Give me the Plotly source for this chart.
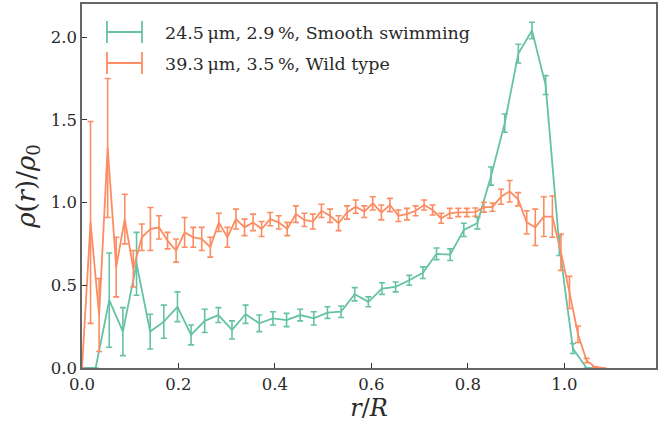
import plotly.graph_objects as go

# radial density profiles, rho(r)/rho_0 vs r/R
r_smooth = [0.0, 0.0283, 0.0565, 0.0848, 0.1131, 0.1414, 0.1696, 0.1979, 0.2262, 0.2544,
            0.2827, 0.3110, 0.3392, 0.3675, 0.3958, 0.4241, 0.4523, 0.4806, 0.5089, 0.5371,
            0.5654, 0.5937, 0.6219, 0.6502, 0.6785, 0.7068, 0.7350, 0.7633, 0.7916, 0.8198,
            0.8481, 0.8764, 0.9046, 0.9329, 0.9612, 0.9895, 1.0177, 1.0460, 1.0743]
rho_smooth = [0.0, 0.0, 0.41, 0.22, 0.63, 0.22, 0.28, 0.37, 0.20, 0.285,
              0.32, 0.23, 0.325, 0.27, 0.30, 0.29, 0.32, 0.30, 0.335, 0.34,
              0.446, 0.40, 0.48, 0.49, 0.53, 0.576, 0.69, 0.685, 0.835, 0.876,
              1.16, 1.48, 1.90, 2.04, 1.71, 0.74, 0.118, 0.0, 0.0]
err_smooth = [0.0, 0.0, 0.285, 0.145, 0.19, 0.105, 0.10, 0.09, 0.06, 0.07,
              0.045, 0.055, 0.055, 0.05, 0.04, 0.04, 0.035, 0.04, 0.035, 0.035,
              0.04, 0.03, 0.035, 0.03, 0.03, 0.035, 0.035, 0.035, 0.04, 0.035,
              0.055, 0.055, 0.057, 0.05, 0.057, 0.06, 0.03, 0.0, 0.0]

r_wild = [0.0, 0.0177, 0.0355, 0.0532, 0.0709, 0.0887, 0.1064, 0.1241, 0.1418, 0.1596,
          0.1773, 0.1950, 0.2128, 0.2305, 0.2482, 0.2660, 0.2837, 0.3014, 0.3191, 0.3369,
          0.3546, 0.3723, 0.3901, 0.4078, 0.4255, 0.4433, 0.4610, 0.4787, 0.4964, 0.5142,
          0.5319, 0.5496, 0.5674, 0.5851, 0.6028, 0.6206, 0.6383, 0.6560, 0.6737, 0.6915,
          0.7092, 0.7269, 0.7447, 0.7624, 0.7801, 0.7979, 0.8156, 0.8333, 0.8510, 0.8688,
          0.8865, 0.9042, 0.9220, 0.9397, 0.9574, 0.9752, 0.9929, 1.0106, 1.0283, 1.0461,
          1.0638, 1.0815]
rho_wild = [0.0, 0.88, 0.32, 1.33, 0.61, 0.90, 0.60, 0.79, 0.84, 0.85,
            0.77, 0.71, 0.82, 0.79, 0.78, 0.73, 0.88, 0.79, 0.90, 0.85,
            0.88, 0.84, 0.90, 0.88, 0.84, 0.93, 0.895, 0.885, 0.95, 0.92,
            0.875, 0.94, 0.975, 0.945, 0.995, 0.94, 0.985, 0.92, 0.93, 0.95,
            0.985, 0.955, 0.905, 0.935, 0.94, 0.94, 0.942, 0.972, 0.972, 1.035,
            1.068, 1.02, 0.88, 0.85, 0.915, 0.915, 0.70, 0.457, 0.204, 0.045,
            0.005, 0.0]
err_wild = [0.0, 0.61, 0.22, 0.42, 0.18, 0.15, 0.11, 0.08, 0.13, 0.07,
            0.05, 0.07, 0.09, 0.06, 0.07, 0.06, 0.055, 0.06, 0.06, 0.05,
            0.05, 0.045, 0.04, 0.04, 0.04, 0.05, 0.04, 0.045, 0.04, 0.04,
            0.045, 0.04, 0.04, 0.035, 0.04, 0.045, 0.04, 0.035, 0.035, 0.03,
            0.03, 0.03, 0.03, 0.03, 0.025, 0.025, 0.025, 0.03, 0.025, 0.045,
            0.065, 0.04, 0.07, 0.11, 0.12, 0.125, 0.11, 0.097, 0.05, 0.013,
            0.003, 0.0]

labels = ["24.5\u2009\u03bcm, 2.9\u2009%, Smooth swimming",
          "39.3\u2009\u03bcm, 3.5\u2009%, Wild type"]
colors = ["#66c2a5", "#fc8d62"]

W, H = 665, 428
L, R, T, B = 82, 9, 4, 60
FONT = "DejaVu Serif"

fig = go.Figure()
for x, y, e, c in [(r_smooth, rho_smooth, err_smooth, colors[0]),
                   (r_wild, rho_wild, err_wild, colors[1])]:
    fig.add_trace(go.Scatter(
        x=x, y=y, mode="lines",
        line=dict(color=c, width=1.8),
        error_y=dict(type="data", array=e, color=c, thickness=1.6, width=3),
        showlegend=False, hoverinfo="skip",
    ))

# hand-made legend (errorbar glyphs), positions in pixels
def px(xp):
    return (xp - L) / (W - L - R)

def py(yp):
    return (H - B - yp) / (H - B - T)

for i, (lab, c) in enumerate(zip(labels, colors)):
    yc = 32 + 31 * i
    fig.add_shape(type="line", xref="paper", yref="paper",
                  x0=px(107), x1=px(142), y0=py(yc), y1=py(yc),
                  line=dict(color=c, width=1.8))
    for xe in (107, 142):
        fig.add_shape(type="line", xref="paper", yref="paper",
                      x0=px(xe), x1=px(xe), y0=py(yc - 11), y1=py(yc + 11),
                      line=dict(color=c, width=1.8))
    fig.add_annotation(xref="paper", yref="paper", x=px(163), y=py(yc + 1),
                       text=lab, showarrow=False, xanchor="left", yanchor="middle",
                       font=dict(family=FONT, size=17.5, color="#2a2a2a"))

axis_common = dict(showline=True, linecolor="#666", linewidth=1.5, mirror=True,
                   ticks="inside", ticklen=5, tickcolor="#333", tickwidth=1,
                   showgrid=False, zeroline=False, automargin=False,
                   tickfont=dict(family=FONT, size=16.5, color="#2a2a2a"))

fig.update_xaxes(range=[0, 1.19], dtick=0.2, tick0=0, tickformat=".1f",
                 title=dict(text="<i>r</i>/<i>R</i>", standoff=4,
                            font=dict(family=FONT, size=24, color="#2a2a2a")),
                 **axis_common)
fig.update_yaxes(range=[0, 2.2], dtick=0.5, tick0=0, tickformat=".1f",
                 title=dict(text="<i>\u03c1</i>(<i>r</i>)/<i>\u03c1</i><sub>0</sub>",
                            standoff=8, font=dict(family=FONT, size=26, color="#2a2a2a")),
                 **axis_common)

fig.update_layout(width=W, height=H, margin=dict(l=L, r=R, t=T, b=B),
                  plot_bgcolor="white", paper_bgcolor="white", hovermode=False)

fig.write_html("out.html", config={"displayModeBar": False},
               post_script="document.body.style.margin='0';")
